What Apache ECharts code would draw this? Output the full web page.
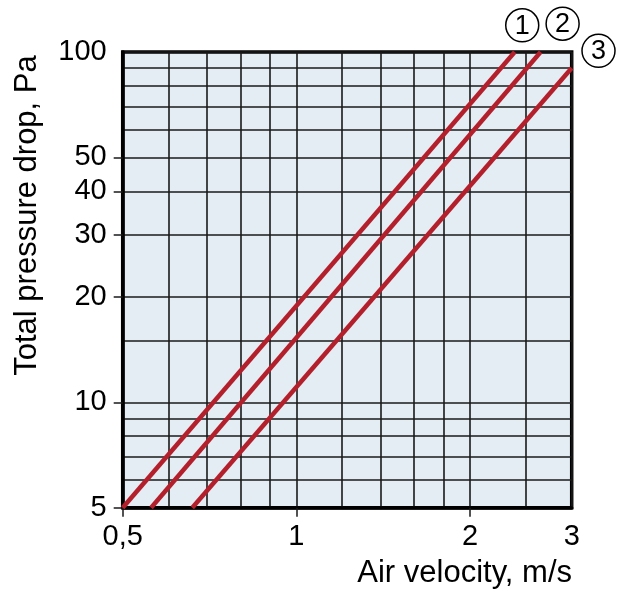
<!DOCTYPE html>
<html>
<head>
<meta charset="utf-8">
<script src="https://cdn.jsdelivr.net/npm/echarts@6/dist/echarts.min.js"></script>
<style>
html,body{margin:0;padding:0;background:#fff;}
#c{width:630px;height:591px;}
</style>
</head>
<body>
<div id="c"></div>
<script>
// grid line values
const xGrid = [0.5, 0.6, 0.7, 0.8, 0.9, 1, 1.2, 1.4, 1.6, 1.8, 2, 2.5, 3];
const yGrid = [5, 6, 7, 8, 9, 10, 15, 20, 30, 40, 50, 60, 70, 80, 90, 100];
// ticks & labels
const xTicks = [0.5, 1, 2];
const xLabels = [0.5, 1, 2, 3];
const yTicks = [5, 10, 20, 30, 40, 50];
const yLabels = [5, 10, 20, 30, 40, 50, 100];
// series (air velocity m/s, pressure drop Pa)
const curve1 = [[0.5, 5], [2.39, 100]];
const curve2 = [[0.56, 5], [2.65, 100]];
const curve3 = [[0.66, 5], [3, 90]];
const curveNames = ['1', '2', '3'];

const FONT = '"Liberation Sans", Arial, Helvetica, sans-serif';
const RED = '#b3202c';
const GRIDC = '#1a1a1a';

const chart = echarts.init(document.getElementById('c'), null, {renderer: 'canvas'});

function fmtNum(v) { return String(v).replace('.', ','); }

const option = {
  animation: false,
  backgroundColor: '#ffffff',
  grid: {
    left: 122.7, right: 58.3, top: 52, bottom: 83.3,
    show: true, backgroundColor: '#e4ecf4', borderColor: '#000', borderWidth: 3.5
  },
  xAxis: [
    {
      type: 'log', logBase: 10, min: 0.5, max: 3, position: 'bottom',
      axisLine: {show: true, lineStyle: {color: '#000', width: 3.5}},
      axisTick: {show: false, customValues: xGrid},
      axisLabel: {show: false},
      splitLine: {show: true, lineStyle: {color: GRIDC, width: 1.6}},
      minorSplitLine: {show: false}
    },
    {
      type: 'log', logBase: 10, min: 0.5, max: 3, position: 'bottom',
      axisLine: {show: false},
      axisTick: {show: true, inside: false, length: 9, customValues: xTicks, lineStyle: {color: GRIDC, width: 1.5}},
      axisLabel: {show: true, customValues: xLabels, margin: 15, fontSize: 29, fontFamily: FONT, color: '#000',
        formatter: v => fmtNum(+(+v).toPrecision(6))},
      splitLine: {show: false}
    }
  ],
  yAxis: [
    {
      type: 'log', logBase: 10, min: 5, max: 100, position: 'left',
      axisLine: {show: true, lineStyle: {color: '#000', width: 3.5}},
      axisTick: {show: false, customValues: yGrid},
      axisLabel: {show: false},
      splitLine: {show: true, lineStyle: {color: GRIDC, width: 1.6}},
      minorSplitLine: {show: false}
    },
    {
      type: 'log', logBase: 10, min: 5, max: 100, position: 'left',
      axisLine: {show: false},
      axisTick: {show: true, inside: false, length: 9, customValues: yTicks, lineStyle: {color: GRIDC, width: 1.5}},
      axisLabel: {show: true, customValues: yLabels, margin: 16, fontSize: 29, fontFamily: FONT, color: '#000',
        formatter: v => fmtNum(+(+v).toPrecision(6))},
      splitLine: {show: false}
    }
  ],
  series: [curve1, curve2, curve3].map((d, i) => ({
    type: 'line', name: curveNames[i], data: d, xAxisIndex: 0, yAxisIndex: 0,
    showSymbol: false, symbol: 'none', clip: false,
    lineStyle: {color: RED, width: 4.5, cap: 'butt'}
  })),
  graphic: [
    {type: 'text', x: 27, y: 215.5, rotation: Math.PI / 2,
      style: {text: 'Total pressure drop, Pa', font: '31px ' + FONT, fill: '#000', textAlign: 'center', textVerticalAlign: 'middle'}},
    {type: 'text', x: 572, y: 573,
      style: {text: 'Air velocity, m/s', font: '31px ' + FONT, fill: '#000', textAlign: 'right', textVerticalAlign: 'middle'}}
  ]
};
chart.setOption(option);

// circled curve labels next to each curve's end
const labelOffsets = [[7.5, -26.7], [22, -28.3], [26.8, -17.2]];
const ends = [curve1, curve2, curve3].map(d => d[d.length - 1]);
const circles = [];
ends.forEach((e, i) => {
  const p = chart.convertToPixel({xAxisIndex: 0, yAxisIndex: 0}, e);
  const cx = p[0] + labelOffsets[i][0], cy = p[1] + labelOffsets[i][1];
  circles.push({type: 'circle', shape: {cx: cx, cy: cy, r: 16.5}, style: {fill: '#fff', stroke: '#000', lineWidth: 1.5}, z: 100});
  circles.push({type: 'text', x: cx, y: cy + 1, z: 101,
    style: {text: curveNames[i], font: '27px ' + FONT, fill: '#000', textAlign: 'center', textVerticalAlign: 'middle'}});
});
chart.setOption({graphic: option.graphic.concat(circles)});
</script>
</body>
</html>
